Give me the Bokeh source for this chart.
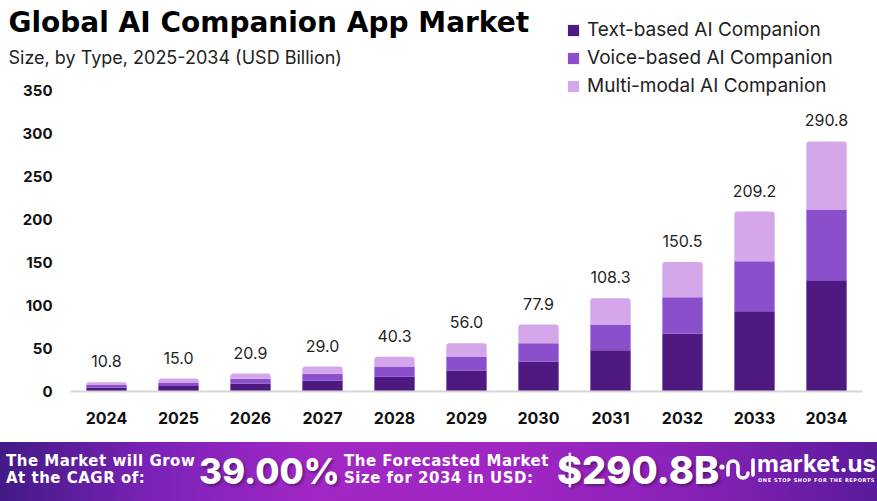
import numpy as np
from bokeh.plotting import figure
from bokeh.models import (ColumnDataSource, Range1d, FixedTicker,
                          Legend, LegendItem, Label, Div)
from bokeh.layouts import column
from bokeh.embed import file_html
from bokeh.resources import INLINE
from bokeh.core.properties import value

# ---------------- data ----------------
years = ["2024", "2025", "2026", "2027", "2028", "2029",
         "2030", "2031", "2032", "2033", "2034"]
text_based = [4.6, 6.4, 8.9, 12.6, 17.5, 24.5, 34.5, 48.0, 67.1, 93.4, 129.4]
voice_based = [3.0, 4.1, 5.8, 8.0, 11.5, 15.5, 21.5, 30.0, 42.6, 58.1, 82.2]
multi_modal = [3.2, 4.5, 6.2, 8.4, 11.3, 16.0, 21.9, 30.3, 40.8, 57.7, 79.2]
totals = [10.8, 15.0, 20.9, 29.0, 40.3, 56.0, 77.9, 108.3, 150.5, 209.2, 290.8]
series_names = ["Text-based AI Companion", "Voice-based AI Companion",
                "Multi-modal AI Companion"]
y_ticks = [0, 50, 100, 150, 200, 250, 300, 350]
title_text = "Global AI Companion App Market"
subtitle_text = "Size, by Type, 2025-2034 (USD Billion)"
cagr_value = "39.00%"
forecast_value = "$290.8B"

# ---------------- styles ----------------
FONT = "Inter"
TITLE_FONT = "DejaVu Sans"
COLORS = ["#4e1a82", "#8b4fcb", "#d3a7ea"]
W, H = 877, 442
AXIS_L, AXIS_R = 70, 15      # pixel margins around the bar area
BASE_Y = 391                 # pixel row of the zero line
PX_PER_UNIT = 0.86
n = len(years)
px_per_cat = (W - AXIS_L - AXIS_R) / n

xpos = np.arange(n)
t = np.array(text_based)
v = np.array(voice_based)
m = np.array(multi_modal)
source = ColumnDataSource(dict(
    x=xpos, year=years,
    b0=np.zeros(n), t0=t,
    b1=t, t1=t + v,
    b2=t + v, t2=t + v + m,
    total=totals,
    label=[f"{x:.1f}" for x in totals],
))

x_start = -0.5 - AXIS_L / px_per_cat
x_end = n - 0.5 + AXIS_R / px_per_cat
y_start = -(H - BASE_Y) / PX_PER_UNIT
y_end = BASE_Y / PX_PER_UNIT

p = figure(width=W, height=H,
           x_range=Range1d(x_start, x_end),
           y_range=Range1d(y_start, y_end),
           output_backend="svg", toolbar_location=None,
           min_border_left=0, min_border_right=0,
           min_border_top=0, min_border_bottom=0)
p.outline_line_color = None
p.xgrid.visible = False
p.ygrid.visible = False
p.background_fill_color = "white"

bw = 0.56
r0 = p.vbar(x="x", bottom="b0", top="t0", width=bw, source=source,
            fill_color=COLORS[0], line_color=None)
r1 = p.vbar(x="x", bottom="b1", top="t1", width=bw, source=source,
            fill_color=COLORS[1], line_color=None)
r2 = p.vbar(x="x", bottom="b2", top="t2", width=bw, source=source,
            fill_color=COLORS[2], line_color=None,
            border_radius=(3, 3, 0, 0))

p.text(x="x", y="total", text="label", source=source,
       text_align="center", text_baseline="bottom", y_offset=-15,
       text_font=value(FONT), text_font_size="16px", text_color="#1f1f1f")

# x axis (at the zero line)
p.xaxis.fixed_location = 0
p.xaxis.ticker = FixedTicker(ticks=list(range(n)))
p.xaxis.major_label_overrides = {i: y for i, y in enumerate(years)}
p.xaxis.bounds = (-0.5, n - 0.5)
p.xaxis.axis_line_color = "#d6d6d6"
p.xaxis.axis_line_width = 2
p.xaxis.major_tick_line_color = None
p.xaxis.minor_tick_line_color = None
p.xaxis.major_tick_out = 0
p.xaxis.major_label_standoff = 20
p.xaxis.major_label_text_font = FONT
p.xaxis.major_label_text_font_style = "bold"
p.xaxis.major_label_text_font_size = "16px"
p.xaxis.major_label_text_color = "#111111"

# y axis (drawn at the left edge of the bar area)
p.yaxis.fixed_location = -0.5
p.yaxis.ticker = FixedTicker(ticks=y_ticks)
p.yaxis.axis_line_color = None
p.yaxis.major_tick_line_color = None
p.yaxis.minor_tick_line_color = None
p.yaxis.major_tick_out = 0
p.yaxis.major_label_standoff = 18
p.yaxis.major_label_text_font = FONT
p.yaxis.major_label_text_font_style = "bold"
p.yaxis.major_label_text_font_size = "15px"
p.yaxis.major_label_text_color = "#111111"

# title / subtitle (screen units, relative to the frame)
p.add_layout(Label(x=8, y=H - 22, x_units="screen",
                   y_units="screen", text=title_text,
                   text_font=TITLE_FONT, text_font_style="bold",
                   text_font_size="28px", text_color="#000000",
                   text_baseline="middle", text_align="left"))
p.add_layout(Label(x=8, y=H - 57, x_units="screen",
                   y_units="screen", text=subtitle_text,
                   text_font=FONT, text_font_size="18px",
                   text_color="#222222",
                   text_baseline="middle", text_align="left"))

# legend
legend = Legend(
    items=[LegendItem(label=series_names[0], renderers=[r0]),
           LegendItem(label=series_names[1], renderers=[r1]),
           LegendItem(label=series_names[2], renderers=[r2])],
    location=(566, H - 97),
    orientation="vertical", border_line_color=None,
    background_fill_alpha=0, padding=0, margin=0, spacing=5,
    label_text_font=FONT, label_text_font_size="19px",
    label_text_color="#222222", glyph_width=14, glyph_height=14,
    label_height=22, label_standoff=7)
p.add_layout(legend)

line_style = ("position:absolute;font-size:15px;font-weight:700;"
              "letter-spacing:0.5px;line-height:17px;white-space:nowrap;")
banner_html = f"""
<div style="position:relative;width:877px;height:59px;overflow:hidden;
background:linear-gradient(90deg,#421a86 0%,#7a22b6 17%,#a228c6 36%,#a026c4 58%,#8a22b8 78%,#5a1a9c 100%);
font-family:'DejaVu Sans',sans-serif;color:#ffffff;">
  <div style="{line_style}left:6px;top:11px;">The Market will Grow</div>
  <div style="{line_style}left:6px;top:28px;">At the CAGR of:</div>
  <div style="position:absolute;left:199px;top:6px;font-family:Inter,sans-serif;font-size:35px;font-weight:800;line-height:46px;white-space:nowrap;text-shadow:2px 2px 3px rgba(0,0,0,0.35);">{cagr_value}</div>
  <div style="{line_style}left:344px;top:11px;">The Forecasted Market</div>
  <div style="{line_style}left:344px;top:28px;">Size for 2034 in USD:</div>
  <div style="position:absolute;left:557px;top:5px;font-family:Inter,sans-serif;font-size:38px;font-weight:800;line-height:46px;white-space:nowrap;text-shadow:2px 2px 3px rgba(0,0,0,0.35);">{forecast_value}</div>
  <svg style="position:absolute;left:718px;top:13px" width="38" height="32" viewBox="0 0 38 32">
    <circle cx="4" cy="12" r="2.6" fill="#ffffff"/>
    <path d="M10 20 V11 a5 5 0 0 1 10 0 V18 a5 5 0 0 0 10 0" stroke="#ffffff" stroke-width="3.6" fill="none" stroke-linecap="round"/>
    <path d="M35 5 V20" stroke="#ffffff" stroke-width="3.6" fill="none" stroke-linecap="round"/>
  </svg>
  <div style="position:absolute;left:757px;top:8px;font-family:Inter,sans-serif;font-size:24px;font-weight:700;line-height:28px;white-space:nowrap;">market.us</div>
  <div style="position:absolute;left:758px;top:35px;font-size:5px;font-weight:700;letter-spacing:0.6px;line-height:6px;white-space:nowrap;">ONE STOP SHOP FOR THE REPORTS</div>
</div>
"""
banner = Div(text=banner_html, width=877, height=59,
             styles={"margin": "0", "padding": "0"})

layout = column(p, banner, spacing=0)
open("out.html", "w").write(file_html(layout, INLINE))
